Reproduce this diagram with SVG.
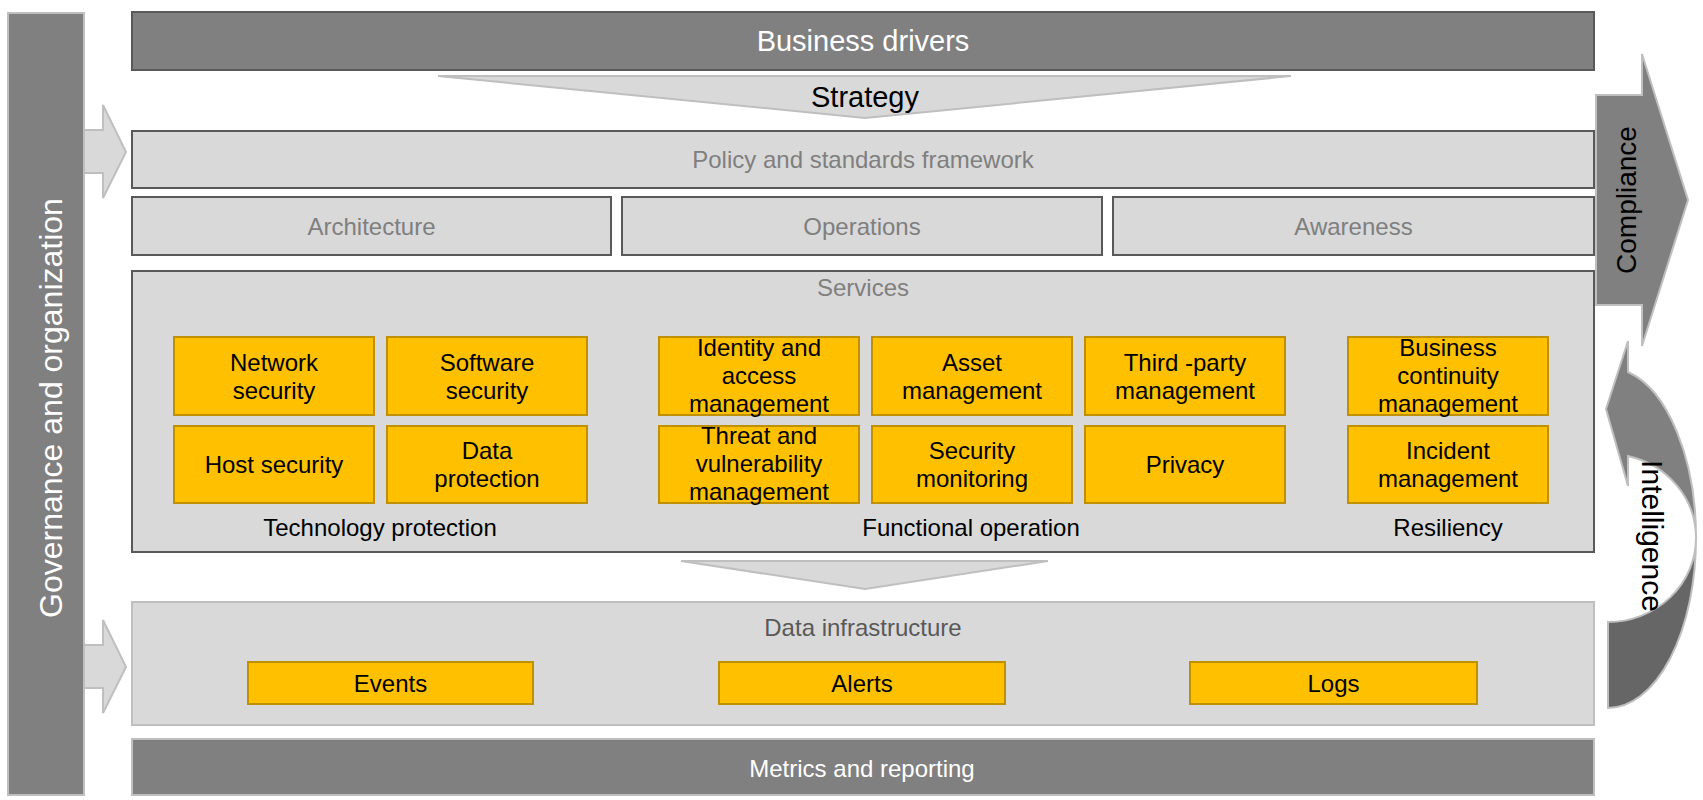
<svg xmlns="http://www.w3.org/2000/svg" width="1703" height="800" viewBox="0 0 1703 800">
<style>
text{font-family:"Liberation Sans",Arial,sans-serif;text-anchor:middle}
.dark{fill:#808080;stroke:#595959;stroke-width:2}
.darkl{fill:#808080;stroke:#bfbfbf;stroke-width:2}
.lite{fill:#d9d9d9;stroke:#595959;stroke-width:2}
.litel{fill:#d9d9d9;stroke:#bfbfbf;stroke-width:2}
.y{fill:#ffc000;stroke:#bf9000;stroke-width:2}
.wt{fill:#ffffff}
.gt{fill:#7f7f7f;font-size:24px}
.bt{fill:#000000;font-size:24px}
</style>
<rect width="1703" height="800" fill="#ffffff"/>

<g id="governance">
<rect class="darkl" x="8" y="13" width="76" height="782"/>
<text class="wt" font-size="32" transform="translate(62,408) rotate(-90)">Governance and organization</text>
</g>

<g id="connectors">
<polygon class="litel" points="84,130 103,130 103,105 126,152 103,198 103,173 84,173"/>
<polygon class="litel" points="84,645 103,645 103,620 126,667 103,713 103,688 84,688"/>
<polygon class="litel" points="438,76 1291,76 865,118"/>
<polygon class="litel" points="681,561 1048,561 865,589"/>
</g>

<g id="business-drivers">
<rect class="dark" x="132" y="12" width="1462" height="58"/>
<text class="wt" font-size="29" x="863" y="51">Business drivers</text>
</g>

<g id="strategy">
<text font-size="29" x="865" y="107" fill="#000">Strategy</text>
</g>

<g id="policy">
<rect class="lite" x="132" y="131" width="1462" height="57"/>
<text class="gt" x="863" y="168">Policy and standards framework</text>
</g>

<g id="architecture">
<rect class="lite" x="132" y="197" width="479" height="58"/>
<text class="gt" x="371.5" y="234.5">Architecture</text>
</g>
<g id="operations">
<rect class="lite" x="622" y="197" width="480" height="58"/>
<text class="gt" x="862" y="234.5">Operations</text>
</g>
<g id="awareness">
<rect class="lite" x="1113" y="197" width="481" height="58"/>
<text class="gt" x="1353.5" y="234.5">Awareness</text>
</g>

<g id="services">
<rect class="lite" x="132" y="271" width="1462" height="281"/>
<text class="gt" x="863" y="296">Services</text>
<text class="bt" x="380" y="536">Technology protection</text>
<text class="bt" x="971" y="536">Functional operation</text>
<text class="bt" x="1448" y="536">Resiliency</text>
</g>

<g id="network-security">
<rect class="y" x="174" y="337" width="200" height="78"/>
<text class="bt" x="274" y="371">Network</text><text class="bt" x="274" y="399">security</text>
</g>
<g id="software-security">
<rect class="y" x="387" y="337" width="200" height="78"/>
<text class="bt" x="487" y="371">Software</text><text class="bt" x="487" y="399">security</text>
</g>
<g id="host-security">
<rect class="y" x="174" y="426" width="200" height="77"/>
<text class="bt" x="274" y="473">Host security</text>
</g>
<g id="data-protection">
<rect class="y" x="387" y="426" width="200" height="77"/>
<text class="bt" x="487" y="459">Data</text><text class="bt" x="487" y="487">protection</text>
</g>

<g id="identity">
<rect class="y" x="659" y="337" width="200" height="78"/>
<text class="bt" x="759" y="356">Identity and</text><text class="bt" x="759" y="384">access</text><text class="bt" x="759" y="412">management</text>
</g>
<g id="asset">
<rect class="y" x="872" y="337" width="200" height="78"/>
<text class="bt" x="972" y="371">Asset</text><text class="bt" x="972" y="399">management</text>
</g>
<g id="third-party">
<rect class="y" x="1085" y="337" width="200" height="78"/>
<text class="bt" x="1185" y="371">Third -party</text><text class="bt" x="1185" y="399">management</text>
</g>
<g id="threat">
<rect class="y" x="659" y="426" width="200" height="77"/>
<text class="bt" x="759" y="444">Threat and</text><text class="bt" x="759" y="472">vulnerability</text><text class="bt" x="759" y="500">management</text>
</g>
<g id="security-monitoring">
<rect class="y" x="872" y="426" width="200" height="77"/>
<text class="bt" x="972" y="459">Security</text><text class="bt" x="972" y="487">monitoring</text>
</g>
<g id="privacy">
<rect class="y" x="1085" y="426" width="200" height="77"/>
<text class="bt" x="1185" y="473">Privacy</text>
</g>

<g id="business-continuity">
<rect class="y" x="1348" y="337" width="200" height="78"/>
<text class="bt" x="1448" y="356">Business</text><text class="bt" x="1448" y="384">continuity</text><text class="bt" x="1448" y="412">management</text>
</g>
<g id="incident">
<rect class="y" x="1348" y="426" width="200" height="77"/>
<text class="bt" x="1448" y="459">Incident</text><text class="bt" x="1448" y="487">management</text>
</g>

<g id="data-infrastructure">
<rect class="litel" x="132" y="602" width="1462" height="123"/>
<text font-size="24" fill="#595959" x="863" y="636">Data infrastructure</text>
</g>
<g id="events">
<rect class="y" x="248" y="662" width="285" height="42"/>
<text class="bt" x="390.5" y="692">Events</text>
</g>
<g id="alerts">
<rect class="y" x="719" y="662" width="286" height="42"/>
<text class="bt" x="862" y="692">Alerts</text>
</g>
<g id="logs">
<rect class="y" x="1190" y="662" width="287" height="42"/>
<text class="bt" x="1333.5" y="692">Logs</text>
</g>

<g id="metrics">
<rect class="darkl" x="132" y="739" width="1462" height="56"/>
<text class="wt" font-size="24" x="862" y="777">Metrics and reporting</text>
</g>

<g id="compliance">
<polygon class="darkl" points="1596,95 1642,95 1642,54 1688,200 1642,346 1642,305 1596,305"/>
<text font-size="28" fill="#000" transform="translate(1636,200) rotate(-90)">Compliance</text>
</g>

<g id="intelligence">
<path d="M1696,538 A88,170 0 0 1 1608,708 L1608,622 A88,84 0 0 0 1696,538 Z" fill="#666666" stroke="#bfbfbf" stroke-width="2"/>
<path d="M1606,409 L1628,341 L1628,372 A88,170 0 0 1 1696,538 A88,84 0 0 0 1628,456 L1628,486 Z" fill="#808080" stroke="#bfbfbf" stroke-width="2"/>
<text font-size="30" fill="#000" transform="translate(1642,536) rotate(90)">Intelligence</text>
</g>
</svg>
